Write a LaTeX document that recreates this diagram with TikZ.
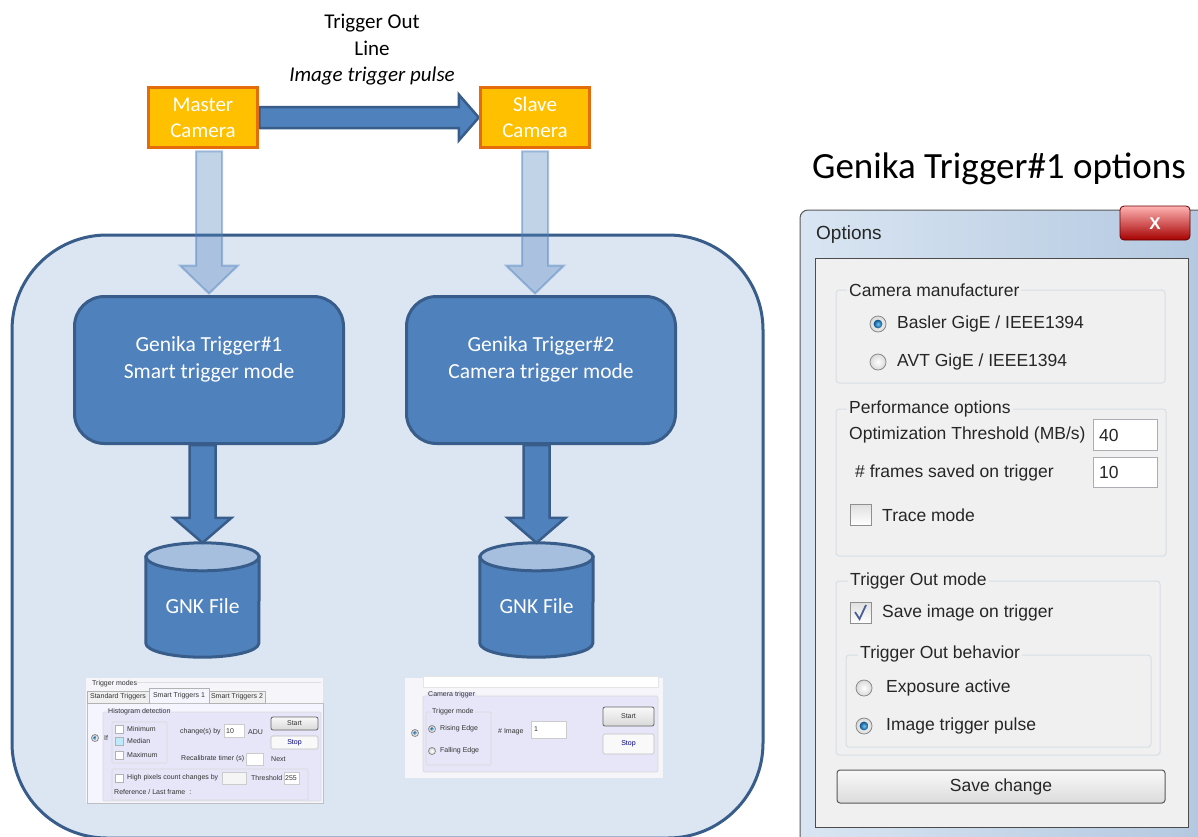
\documentclass[tikz,border=0pt]{standalone}
\usepackage{fontspec}
\setmainfont{Carlito}
\newfontfamily\uifont{Liberation Sans}
\usetikzlibrary{calc}
\definecolor{orfill}{HTML}{FFC000}
\definecolor{ordraw}{HTML}{E46C0A}
\definecolor{bfill}{HTML}{4F81BD}
\definecolor{bdraw}{HTML}{385D8A}
\definecolor{bgfill}{HTML}{DCE6F2}
\definecolor{cyltop}{HTML}{A7BFDE}
\definecolor{dlgbg}{HTML}{F0F0F0}
\definecolor{grpline}{HTML}{D5DFE5}
\definecolor{lav}{HTML}{E6E6F8}
\definecolor{shotbg}{HTML}{F5F5FA}
\definecolor{radioedge}{HTML}{8A8A8A}
\definecolor{radioin}{HTML}{6CC4F5}
\definecolor{radioout}{HTML}{0C4F86}
\definecolor{chkedge}{HTML}{8E8F8F}
\definecolor{tickcol}{HTML}{4A5F97}
\definecolor{boxedge}{HTML}{ABADB3}
\definecolor{frameA}{HTML}{D9E5F2}
\definecolor{frameB}{HTML}{B3C8E0}
\newcommand\myvarrow[6]{\draw[#1] ($(#2)+(-#4,0)$) -- ($(#3)+(-#4,-#6)$) -- ($(#3)+(-#5,-#6)$) -- (#3) -- ($(#3)+(#5,-#6)$) -- ($(#3)+(#4,-#6)$) -- ($(#2)+(#4,0)$) -- cycle;}
\newcommand\uiradio[2][8]{\draw[draw=radioedge, inner color=white, outer color=gray!30, line width=0.8pt] (#2) circle[radius=#1pt];}
\newcommand\uiradioon[2][8]{\uiradio[#1]{#2}\shade[inner color=radioin, outer color=radioout] (#2) circle[radius=0.55*#1pt];}
\newcommand\uicheck[3]{\draw[draw=chkedge, line width=0.8pt, top color=gray!25, bottom color=white] (#1,#2) rectangle ++(#3,#3);}
\newcommand\uibox[4]{\draw[draw=boxedge, fill=white, line width=0.8pt] (#1,#2) rectangle (#3,#4);}
\newcommand\uibutton[4]{\draw[draw=gray!80!black, line width=0.8pt, rounded corners=2pt, top color=gray!5, bottom color=gray!30] (#1,#2) rectangle (#3,#4);}
\begin{document}
\begin{tikzpicture}[x=1pt,y=-1pt,
  cam/.style={draw=ordraw, fill=orfill, line width=3.5pt, minimum width=109, minimum height=60, text=white, align=center, inner sep=0pt, font=\fontsize{21}{26}\selectfont},
  genika/.style={draw=bdraw, fill=bfill, line width=3pt, rounded corners=30pt, minimum width=269, minimum height=147},
  gtxt/.style={text=white, align=center, inner sep=0pt, font=\fontsize{21.5}{27}\selectfont},
  sysbox/.style={draw=bdraw, fill=bgfill, line width=3pt, rounded corners=95pt, minimum width=751, minimum height=603},
  lightarrow/.style={fill=bfill, fill opacity=0.35, draw=bfill, draw opacity=0.45, line width=2pt},
  darrow/.style={fill=bfill, draw=bdraw, line width=2.5pt},
  cyl/.style={fill=bfill, draw=bdraw, line width=3pt},
  cylspace/.style={minimum width=113, minimum height=114, inner sep=0pt},
  cyltxt/.style={text=white, font=\fontsize{21.5}{24}\selectfont},
  toplbl/.style={align=center, font=\fontsize{21}{26.5}\selectfont, text=black},
  uitxt/.style={anchor=west, inner sep=0pt, font=\uifont\fontsize{17.5}{21}\selectfont, text=black!85},
  grplbl/.style={uitxt, fill=dlgbg, inner xsep=2pt, inner ysep=1pt},
  grp/.style={draw=grpline, line width=1pt, rounded corners=3pt},
  sm/.style={anchor=west, inner sep=0pt, font=\uifont\fontsize{7}{8}\selectfont, text=black!80},
  smbg/.style={sm, fill=shotbg, inner xsep=1pt},
  smlav/.style={sm, fill=lav, inner xsep=1pt},
  smgrp/.style={draw=gray!30, line width=0.6pt, rounded corners=1pt},
  tab/.style={draw=gray!60, line width=0.6pt, fill=gray!12}
]
\useasboundingbox (0,0) rectangle (1198,836);
\clip (0,0) rectangle (1198,836);
\fill[white] (0,0) rectangle (1198,836);

% ---------- system box ----------
\node[sysbox] (sys) at (387.5,536.5) {};
\node[genika] (g1) at (209,370) {};
\node[genika] (g2) at (541,370) {};
\node[gtxt] (g1t) at ($(g1.center)+(0,-11)$) {Genika Trigger\#1\\Smart trigger mode};
\node[gtxt] (g2t) at ($(g2.center)+(0,-11)$) {Genika Trigger\#2\\Camera trigger mode};

% ---------- cameras (placed, drawn later) ----------
\node[cam] (master) at (203,117.5) {Master\\Camera};
\node[cam] (slave) at (535,117.5) {Slave\\Camera};

% horizontal trigger arrow
\draw[darrow] ($(master.east)+(0,-10.5)$) -- ($(slave.west)+(-20,-10.5)$) -- ($(slave.west)+(-20,-23)$) -- (slave.west) -- ($(slave.west)+(-20,23)$) -- ($(slave.west)+(-20,10.5)$) -- ($(master.east)+(0,10.5)$) -- cycle;
\node[toplbl] (trig) at (372,50) {Trigger Out\\Line\\\textit{Image trigger pulse}};

% light arrows camera -> genika
\coordinate (la1s) at ($(g1.north |- master.south)+(0,2)$);
\coordinate (la1t) at ($(g1.north)+(0,-1.5)$);
\coordinate (la2s) at ($(slave.south)+(0,2)$);
\coordinate (la2t) at ($(slave.south |- g2.north)+(0,-1.5)$);
\myvarrow{lightarrow}{la1s}{la1t}{13}{29}{28}
\myvarrow{lightarrow}{la2s}{la2t}{13}{29}{28}

% redraw cameras on top
\node[cam] at (master.center) {Master\\Camera};
\node[cam] at (slave.center) {Slave\\Camera};

% ---------- databases ----------
\node[cylspace] (db1) at (202.5,600) {};
\node[cylspace] (db2) at (536.5,600) {};
\foreach \d in {db1,db2}{
  \draw[cyl] ($(\d.north west)+(0,14)$) -- ($(\d.south west)+(0,-14)$) arc[start angle=180, end angle=360, x radius=56.5pt, y radius=14pt] -- ($(\d.north east)+(0,14)$) -- cycle;
  \draw[cyl, fill=cyltop] ($(\d.north)+(0,14)$) ellipse[x radius=56.5pt, y radius=14pt];
}
\node[cyltxt] (db1t) at ($(db1.center)+(0,6)$) {GNK File};
\node[cyltxt] (db2t) at ($(db2.center)+(0,6)$) {GNK File};
\coordinate (da1s) at (db1.north |- g1.south);
\coordinate (da2s) at (db2.north |- g2.south);
\myvarrow{darrow}{da1s}{db1.north}{13}{29}{25}
\myvarrow{darrow}{da2s}{db2.north}{13}{29}{25}

% ---------- screenshot 1 : smart triggers ----------
\fill[shotbg] (86,678) rectangle (323,803);
\node[sm] (s1title) at (92,684) {Trigger modes};
\draw[gray!25, line width=0.6pt] (137,682) -- (321,682);
\draw[draw=gray!50, line width=0.6pt, fill=white!96!blue] (87,703) rectangle (323,803);
\draw[tab] (87,691) rectangle (149,703);
\draw[tab] (209,691) rectangle (265,703);
\draw[draw=gray!60, line width=0.6pt, fill=white!96!blue] (149,703) -- (149,688) -- (209,688) -- (209,703);
\node[sm, anchor=center] (s1tab1) at (118,697) {Standard Triggers};
\node[sm, anchor=center] (s1tab2) at (179,696) {Smart Triggers 1};
\node[sm, anchor=center] (s1tab3) at (237,697) {Smart Triggers 2};
\fill[lav] (103,712) rectangle (321,801);
\draw[smgrp] (103,712) rectangle (321,801);
\node[smlav] (s1hist) at (107,712) {Histogram detection};
\uiradioon[3.5]{95,738}
\node[sm] (s1if) at (104,738) {If};
\draw[smgrp] (112,722) rectangle (167,763);
\draw[draw=gray!60, line width=0.5pt, fill=white] (115,725) rectangle (123,733);
\draw[draw=gray!60, line width=0.5pt, fill=cyan!25] (115,737) rectangle (123,745);
\draw[draw=gray!60, line width=0.5pt, fill=white] (115,751) rectangle (123,759);
\node[sm] (s1min) at (127,729) {Minimum};
\node[sm] (s1med) at (127,741) {Median};
\node[sm] (s1max) at (127,755) {Maximum};
\node[sm] (s1chg) at (180,732) {change(s) by};
\draw[draw=gray!40, line width=0.5pt, fill=white] (224,724) rectangle (244,737);
\node[sm] (s1ten) at (226,731) {10};
\node[sm] (s1adu) at (248,732) {ADU};
\uibutton{271}{717}{318}{730}
\node[sm, anchor=center] (s1start) at (294.5,723.5) {Start};
\draw[draw=gray!50, line width=0.6pt, rounded corners=1.5pt, fill=white!95!gray] (271,736) rectangle (318,749);
\node[sm, anchor=center, text=blue!50!black] (s1stop) at (294.5,742.5) {Stop};
\node[sm] (s1recal) at (181,759) {Recalibrate timer (s)};
\draw[draw=gray!40, line width=0.5pt, fill=white] (246,753) rectangle (263,765);
\node[sm] (s1next) at (271,759) {Next};
\draw[smgrp] (112,769) rectangle (308,800);
\draw[draw=gray!60, line width=0.5pt, fill=white] (115,774) rectangle (123,782);
\node[sm] (s1high) at (127,778) {High pixels count changes by};
\draw[draw=gray!40, line width=0.5pt, fill=gray!8] (222,772) rectangle (246,784);
\node[sm] (s1thr) at (251,778) {Threshold};
\draw[draw=gray!40, line width=0.5pt, fill=white] (284,772) rectangle (299,784);
\node[sm] (s1val) at (285,778) {255};
\node[sm] (s1ref) at (114,792) {Reference / Last frame \ :};

% ---------- screenshot 2 : camera trigger ----------
\fill[shotbg] (405,678) rectangle (663,778);
\draw[draw=gray!20, line width=0.6pt, fill=white] (423,676) rectangle (658,687);
\fill[lav] (423,696) rectangle (658,772);
\draw[smgrp] (423,696) rectangle (658,772);
\node[smlav] (s2cam) at (427,695) {Camera trigger};
\draw[smgrp] (426,712) rectangle (491,765);
\node[smlav] (s2mode) at (431,712) {Trigger mode};
\uiradioon[3.5]{415,733}
\uiradioon[3.5]{432,729}
\uiradio[3.5]{432,751}
\node[sm] (s2rise) at (440,729) {Rising Edge};
\node[sm] (s2fall) at (440,751) {Falling Edge};
\node[sm] (s2img) at (498,732) {\# Image};
\draw[draw=gray!40, line width=0.5pt, fill=white] (531,721) rectangle (566,738);
\node[sm] (s2one) at (534,729) {1};
\uibutton{603}{707}{654}{726}
\node[sm, anchor=center] (s2start) at (628.5,716.5) {Start};
\draw[draw=gray!50, line width=0.6pt, rounded corners=1.5pt, fill=white!95!gray] (603,734) rectangle (654,754);
\node[sm, anchor=center, text=blue!50!black] (s2stop) at (628.5,744) {Stop};

% ---------- options dialog ----------
\node[font=\fontsize{37}{42}\selectfont, text=black] (dlgtitle) at (999,169) {Genika Trigger\#1 options};
\draw[draw=gray!70!black, line width=1pt, left color=frameA, right color=frameB] (800,845) [rounded corners=8pt] -- (800,210) -- (1210,210) [sharp corners] -- (1210,845) -- cycle;
\node[uitxt, font=\uifont\fontsize{19}{22}\selectfont] (dlgname) at (816,235) {Options};
\draw[draw=red!40!black, line width=0.8pt, rounded corners=4pt, top color=red!30!white, bottom color=red!65!black] (1120,206) rectangle (1190,240);
\node[text=white, font=\uifont\bfseries\fontsize{17}{20}\selectfont] (closex) at (1155,224) {X};
\draw[draw=gray!60!black, line width=1pt, fill=dlgbg] (815,258) rectangle (1188,827);

% camera manufacturer
\draw[grp] (836,290) rectangle (1165,383);
\node[grplbl] (lcam) at (847,290) {Camera manufacturer};
\uiradioon{878,324}
\node[uitxt] (tbasler) at (897,324) {Basler GigE / IEEE1394};
\uiradio{878,362}
\node[uitxt] (tavt) at (897,362) {AVT GigE / IEEE1394};

% performance options
\draw[grp] (836,409) rectangle (1166,556);
\node[grplbl] (lperf) at (847,409) {Performance options};
\node[uitxt] (topt) at (849,435) {Optimization Threshold (MB/s)};
\uibox{1093}{419}{1157}{450}
\node[uitxt] (v40) at (1099,435) {40};
\node[uitxt] (tframes) at (855,473) {\# frames saved on trigger};
\uibox{1093}{457}{1157}{487}
\node[uitxt] (v10) at (1099,472) {10};
\uicheck{850}{504}{21}
\node[uitxt] (ttrace) at (882,515) {Trace mode};

% trigger out mode
\draw[grp] (836,581) rectangle (1160,755);
\node[grplbl] (ltrig) at (848,581) {Trigger Out mode};
\uicheck{850}{602}{21}
\draw[tickcol, line width=1.8pt] (855,612) -- (859.5,619) -- (866,605);
\node[uitxt] (tsave) at (882,613) {Save image on trigger};
\draw[grp] (846,655) rectangle (1151,747);
\node[grplbl] (lbeh) at (858,654) {Trigger Out behavior};
\uiradio{864,688}
\node[uitxt] (texp) at (886,688) {Exposure active};
\uiradioon{864,726}
\node[uitxt] (tpulse) at (886,726) {Image trigger pulse};

% save button
\draw[draw=gray!70!black, line width=1pt, rounded corners=3pt, top color=gray!5, bottom color=gray!28] (837,770) rectangle (1165,803);
\node[uitxt, anchor=center] (bsave) at (1001,787) {Save change};
\end{tikzpicture}
\end{document}
